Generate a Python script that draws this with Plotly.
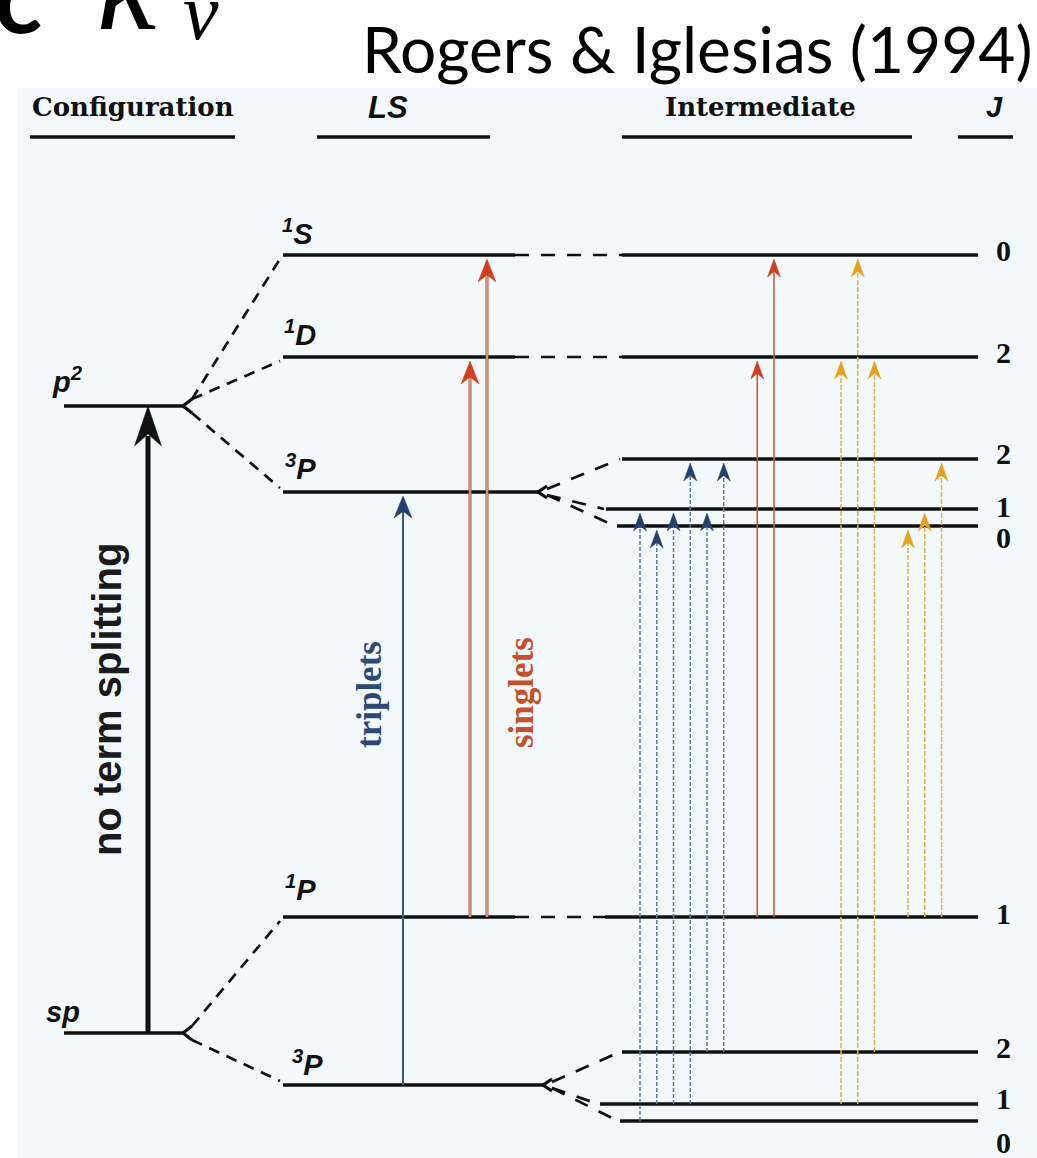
import plotly.graph_objects as go

W, H = 1037, 1158

# ---------------- energy data (arbitrary units, increasing upward) ----------------
# Configurations
config_labels = ["p<sup>2</sup>", "sp"]
config_energy = [752, 125]

# LS terms: multiplicity, orbital letter, energy, parent configuration
term_mult = ["1", "1", "3", "1", "3"]
term_L = ["S", "D", "P", "P", "P"]
term_energy = [903, 801, 666, 241, 73]
term_parent = [0, 0, 0, 1, 1]

# Intermediate-coupling J levels
level_J = [0, 2, 2, 1, 0, 1, 2, 1, 0]
level_energy = [903, 801, 699, 649, 632, 241, 106, 54, 37]
level_term = [0, 1, 2, 2, 2, 3, 4, 4, 4]

# Transitions between J levels (lower index -> upper index)
triplet_lower = [8, 7, 7, 7, 6, 6]
triplet_upper = [3, 4, 3, 2, 3, 2]
singlet_lower = [5, 5]
singlet_upper = [1, 0]
interc_lower = [7, 7, 6, 5, 5, 5]
interc_upper = [1, 0, 1, 4, 3, 2]

# LS-coupling transitions (lower term -> upper term)
ls_triplet = (4, 2)
ls_singlets = [(3, 1), (3, 0)]

# column headers
headers = ["Configuration", "<i>LS</i>", "Intermediate", "<i>J</i>"]

# ---------------- layout constants ----------------
CFG_X0, CFG_X1 = 64, 183
LS_X0, LS_X1 = 283, 515
INT_X1 = 978
int_x0 = [622, 622, 622, 606, 617, 605, 622, 600, 620]
fork_x = {2: 538, 4: 543}
slot_triplet = [0, 1, 2, 3, 4, 5]
slot_singlet = [7, 8]
slot_interc = [12, 13, 14, 16, 17, 18]
SLOT0, SLOT_DX = 640, 16.75
j_label_dy = [5, 5, 6, 3, -11, 4, 5, 6, -21]
term_label_dx = [14, 17, 17, 17, 24]
term_label_dy = [23, 24, 25, 29, 22]

BLACK = "#111111"
BLUE_LINE, BLUE_HEAD = "#5f7b98", "#22426c"
RED_LINE, RED_HEAD = "#c65a44", "#cc3f24"
YEL_LINE, YEL_HEAD = "#dcb34a", "#e3a322"

fig = go.Figure()
shapes = []
annotations = []


def seg_trace(xs, ys, color, width, dash="solid"):
    fig.add_trace(go.Scatter(x=xs, y=ys, mode="lines", hoverinfo="skip",
                             line=dict(color=color, width=width, dash=dash),
                             showlegend=False))


def head(x, tip, length, width, color):
    yb = tip - length
    yn = tip - 0.7 * length
    shapes.append(dict(type="path", xref="x", yref="y", layer="above",
                       path=f"M{x},{tip} L{x - width / 2},{yb} L{x},{yn} L{x + width / 2},{yb} Z",
                       fillcolor=color, line=dict(color=color, width=0.5)))


# background of the diagram panel
shapes.append(dict(type="rect", xref="x", yref="y", x0=18, x1=W, y0=0, y1=1070,
                   fillcolor="#f3f9fb", line=dict(width=0), layer="below"))

# ---------------- configuration levels ----------------
xs, ys = [], []
for e in config_energy:
    xs += [CFG_X0, CFG_X1, None]
    ys += [e, e, None]
    # small fork at the right end
    xs += [CFG_X1 + 9, CFG_X1, CFG_X1 + 9, None]
    ys += [e + 7, e, e - 7, None]
seg_trace(xs, ys, BLACK, 3.3)

# dashed links configuration -> LS terms
xs, ys = [], []
for t, e in enumerate(term_energy):
    ec = config_energy[term_parent[t]]
    xs += [CFG_X1 + 9, LS_X0 - 3, None]
    ys += [ec + (7 if e > ec else -7), e - (4 if e > ec else -4), None]
seg_trace(xs, ys, BLACK, 2.7, "11px,8px")

# ---------------- LS terms ----------------
xs, ys = [], []
for t, e in enumerate(term_energy):
    x1 = fork_x.get(t, LS_X1)
    xs += [LS_X0, x1, None]
    ys += [e, e, None]
    if t in fork_x:
        xs += [x1 + 9, x1, x1 + 9, None]
        ys += [e + 6, e, e - 6, None]
seg_trace(xs, ys, BLACK, 3.3)

# links LS -> intermediate (dashed)
xs, ys = [], []
for i, e in enumerate(level_energy):
    t = level_term[i]
    if t in fork_x:
        fx = fork_x[t] + 9
        xs += [fx, int_x0[i] - 2, None]
        ys += [term_energy[t] + (3 if e > term_energy[t] else -3), e, None]
    else:
        xs += [LS_X1, int_x0[i], None]
        ys += [e, e, None]
seg_trace(xs, ys, BLACK, 2.7, "14px,12px")

# ---------------- intermediate J levels ----------------
xs, ys = [], []
for i, e in enumerate(level_energy):
    xs += [int_x0[i], INT_X1, None]
    ys += [e, e, None]
seg_trace(xs, ys, BLACK, 3.3)

# ---------------- transitions in intermediate coupling ----------------
GAP = 4


def transition_set(lows, ups, slots, lcolor, hcolor, dash, width):
    xs, ys = [], []
    for lo, up, s in zip(lows, ups, slots):
        x = SLOT0 + SLOT_DX * s
        xs += [x, x, None]
        ys += [level_energy[lo], level_energy[up] - GAP - 10, None]
    seg_trace(xs, ys, lcolor, width, dash)
    for lo, up, s in zip(lows, ups, slots):
        x = SLOT0 + SLOT_DX * s
        head(x, level_energy[up] - GAP, 18, 13, hcolor)


transition_set(triplet_lower, triplet_upper, slot_triplet, BLUE_LINE, BLUE_HEAD, "4px,2px", 1.5)
transition_set(singlet_lower, singlet_upper, slot_singlet, RED_LINE, RED_HEAD, "solid", 1.6)
transition_set(interc_lower, interc_upper, slot_interc, YEL_LINE, YEL_HEAD, "5px,2px", 1.5)

# ---------------- LS transitions ----------------
lo, up = ls_triplet
seg_trace([403, 403], [term_energy[lo], term_energy[up] - GAP - 12], "#3e5878", 2)
head(403, term_energy[up] - GAP, 22, 18, BLUE_HEAD)

for (lo, up), x in zip(ls_singlets, [470, 487]):
    seg_trace([x, x], [term_energy[lo], term_energy[up] - GAP - 12], "#a8523a", 3.0)
    seg_trace([x, x], [term_energy[lo], term_energy[up] - GAP - 12], "#f4d2ba", 1.0)
    head(x, term_energy[up] - GAP, 23, 18, "#cf4220")

# configuration-average transition
seg_trace([148, 148], [config_energy[1], config_energy[0] - 30], BLACK, 5)
head(148, config_energy[0], 40, 27, BLACK)

# ---------------- text ----------------
SANS_BI = "Liberation Sans"
for lbl, e, dx, dy in zip(config_labels, config_energy, [3, -1], [26, 21]):
    annotations.append(dict(x=CFG_X0 + dx, y=e + dy, text=f"<b><i>{lbl}</i></b>",
                            showarrow=False, font=dict(family=SANS_BI, size=29, color=BLACK)))

for t, e in enumerate(term_energy):
    annotations.append(dict(x=LS_X0 + term_label_dx[t], y=e + term_label_dy[t],
                            text=f"<b><i><sup>{term_mult[t]}</sup>{term_L[t]}</i></b>",
                            showarrow=False, font=dict(family=SANS_BI, size=29, color=BLACK)))

for i, e in enumerate(level_energy):
    annotations.append(dict(x=1003, y=e + j_label_dy[i], text=f"<b>{level_J[i]}</b>",
                            showarrow=False, font=dict(family="Liberation Serif", size=30, color=BLACK)))

# column headers and underlines
hdr_x = [133, 388, 760, 994]
hdr_fonts = ["DejaVu Serif", "Liberation Sans", "DejaVu Serif", "Liberation Sans"]
hdr_sizes = [26, 31, 26, 29]
for txt, x, fam, sz in zip(headers, hdr_x, hdr_fonts, hdr_sizes):
    annotations.append(dict(x=x, y=1051, text=f"<b>{txt}</b>", showarrow=False,
                            font=dict(family=fam, size=sz, color=BLACK)))
xs, ys = [], []
for x0, x1 in [(30, 235), (317, 490), (622, 912), (958, 1013)]:
    xs += [x0, x1, None]
    ys += [1021, 1021, None]
seg_trace(xs, ys, BLACK, 3.3)

# rotated labels
annotations.append(dict(x=107, y=458, text="<b>no term splitting</b>", textangle=-90,
                        showarrow=False, font=dict(family="Liberation Sans", size=40, color="#1a1a1a")))
annotations.append(dict(x=369, y=463, text="<b>triplets</b>", textangle=-90,
                        showarrow=False, font=dict(family="Liberation Serif", size=35, color="#2a4a74")))
annotations.append(dict(x=521, y=465, text="<b>singlets</b>", textangle=-90,
                        showarrow=False, font=dict(family="Liberation Serif", size=35, color="#c4502c")))

# slide title and the partly visible symbol above the panel
annotations.append(dict(x=697, y=1110, text="Rogers &amp; Iglesias (1994)", showarrow=False,
                        font=dict(family="Lato", size=64, color="#000000")))
annotations.append(dict(xref="paper", yref="paper", x=18 / W, y=1164 / H,
                        xanchor="center", yanchor="middle", text="<b>c</b>", showarrow=False,
                        font=dict(family="Lato", size=100, color="#000000")))
annotations.append(dict(xref="paper", yref="paper", x=128 / W, y=1174 / H,
                        xanchor="center", yanchor="middle", text="<i>κ</i>", showarrow=False,
                        font=dict(family="Liberation Serif", size=132, color="#000000")))
annotations.append(dict(x=201, y=1146, text="<i>ν</i>", showarrow=False,
                        font=dict(family="Liberation Serif", size=80, color="#000000")))

fig.update_layout(
    width=W, height=H, autosize=False,
    margin=dict(l=0, r=0, t=0, b=0),
    paper_bgcolor="#ffffff", plot_bgcolor="#ffffff",
    xaxis=dict(range=[0, W], visible=False, fixedrange=True),
    yaxis=dict(range=[0, H], visible=False, fixedrange=True),
    shapes=shapes, annotations=annotations, showlegend=False,
)

fig.write_html("out.html")
